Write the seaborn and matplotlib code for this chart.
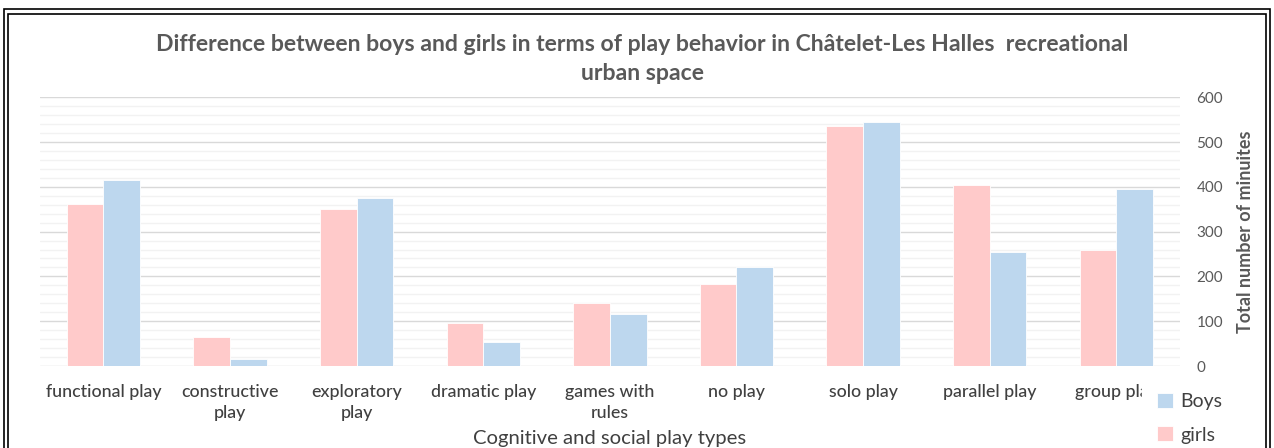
import matplotlib
matplotlib.use("Agg")
import matplotlib.pyplot as plt
import pandas as pd
import seaborn as sns
from matplotlib.patches import Rectangle
from matplotlib.ticker import MultipleLocator

play_types = ["functional play", "constructive\nplay", "exploratory\nplay", "dramatic play",
              "games with\nrules", "no play", "solo play", "parallel play", "group play"]
girls = [362, 65, 350, 97, 140, 183, 536, 403, 258]
boys = [415, 16, 375, 54, 117, 222, 545, 254, 396]

df = pd.DataFrame({
    "type": play_types * 2,
    "minutes": girls + boys,
    "sex": ["girls"] * len(girls) + ["Boys"] * len(boys),
})

sns.set_theme(style="white")
plt.rcParams["font.family"] = ["Lato", "DejaVu Sans"]

fig = plt.figure(figsize=(12.74, 4.48), dpi=100)
ax = fig.add_axes([0.0314, 0.183, 0.8946, 0.600])

palette = {"girls": "#FFCACA", "Boys": "#BDD7EE"}
sns.barplot(data=df, x="type", y="minutes", hue="sex", hue_order=["girls", "Boys"],
            palette=palette, width=0.58, gap=0, saturation=1, ax=ax,
            edgecolor="white", linewidth=0.6, zorder=3)

ax.set_ylim(0, 600)
ax.set_xlim(-0.5, 8.5)
ax.yaxis.set_major_locator(MultipleLocator(100))
ax.yaxis.set_minor_locator(MultipleLocator(20))
ax.grid(axis="y", which="major", color="#d9d9d9", linewidth=1.0, zorder=0)
ax.grid(axis="y", which="minor", color="#f2f2f2", linewidth=1.0, zorder=0)
ax.yaxis.tick_right()
ax.yaxis.set_label_position("right")
for s in ax.spines.values():
    s.set_visible(False)
ax.tick_params(axis="y", which="both", length=0, labelsize=11, labelcolor="#595959", pad=12)
ax.tick_params(axis="x", length=0, labelsize=12.8, labelcolor="#404040", pad=13)
for lab in ax.get_xticklabels():
    lab.set_linespacing(1.4)
    lab.set_fontweight("medium")

ax.set_ylabel("Total number of minuites", fontsize=13, fontweight="bold", color="#595959", labelpad=10)
ax.set_xlabel("Cognitive and social play types", fontsize=14.6, color="#404040", labelpad=6)

fig.suptitle("Difference between boys and girls in terms of play behavior in Châtelet-Les Halles  recreational\nurban space",
             x=0.504, y=0.925, fontsize=16.6, fontweight="bold", color="#595959", linespacing=1.5)

handles, labels = ax.get_legend_handles_labels()
order = [labels.index("Boys"), labels.index("girls")]
ax.legend([handles[i] for i in order], [labels[i] for i in order],
          loc="upper left", bbox_to_anchor=(0.896, 0.158), bbox_transform=fig.transFigure,
          frameon=True, facecolor="white", edgecolor="white", framealpha=1,
          fontsize=14, labelcolor="#404040", handlelength=0.8, handleheight=0.8,
          handletextpad=0.4, labelspacing=0.85, borderpad=0.8, borderaxespad=0)

# double frame around the chart
fig.patches.append(Rectangle((0.003, -0.05), 0.994, 1.03, transform=fig.transFigure,
                             fill=False, edgecolor="black", linewidth=1.2))
fig.patches.append(Rectangle((0.0065, -0.05), 0.987, 1.018, transform=fig.transFigure,
                             fill=False, edgecolor="black", linewidth=1.2))

fig.savefig("out.png", dpi=100)
